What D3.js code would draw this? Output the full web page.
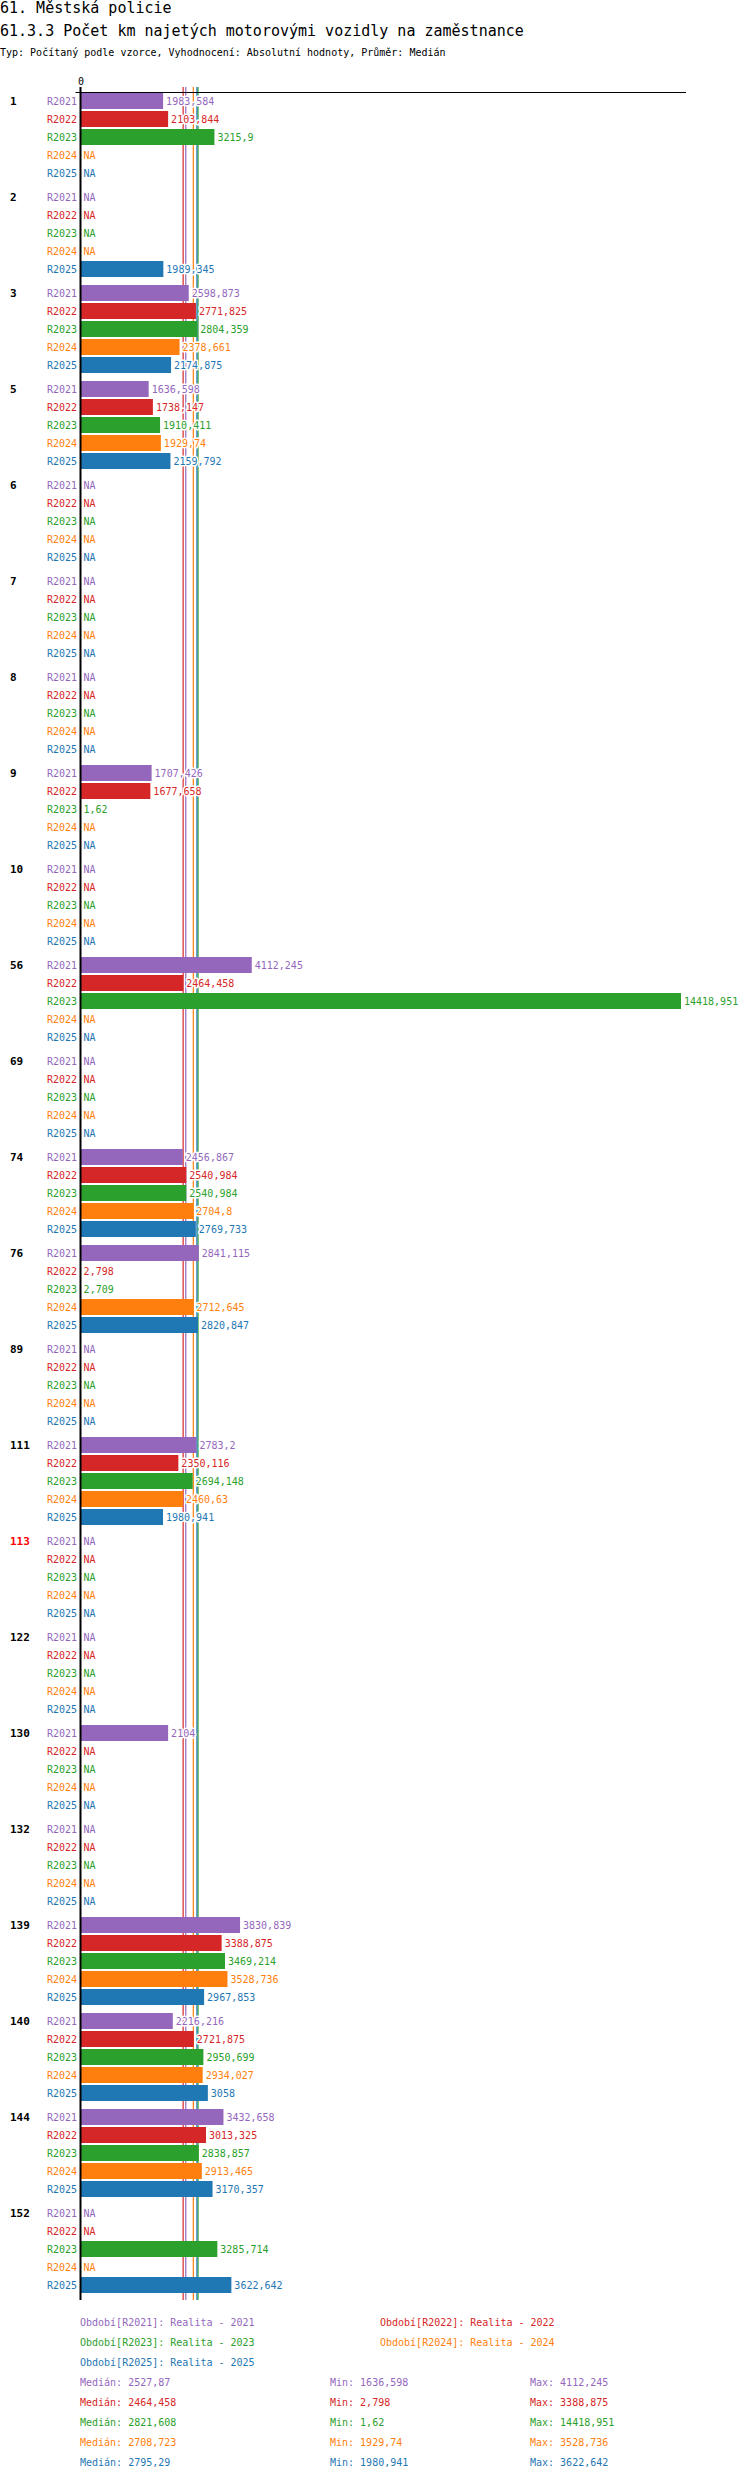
<!DOCTYPE html>
<html>
<head>
<meta charset="utf-8">
<script src="https://cdn.jsdelivr.net/npm/d3@7"></script>
<style>
  body { margin: 0; background: #fff; }
  text { font-family: "DejaVu Sans Mono", monospace; }
</style>
</head>
<body>
<div id="chart"></div>
<script>
// categories (organisations) and periods
const groups = ["1", "2", "3", "5", "6", "7", "8", "9", "10", "56", "69", "74", "76", "89",
                "111", "113", "122", "130", "132", "139", "140", "144", "152"];
const highlighted = ["113"];
const series = ["R2021", "R2022", "R2023", "R2024", "R2025"];
const seriesNames = ["Realita - 2021", "Realita - 2022", "Realita - 2023", "Realita - 2024", "Realita - 2025"];
const colors = ["#9467bd", "#d62728", "#2ca02c", "#ff7f0e", "#1f77b4"];

// values per period, in the order of groups (null = NA)
const r2021 = [1983.584, null, 2598.873, 1636.598, null, null, null, 1707.426, null, 4112.245, null,
               2456.867, 2841.115, null, 2783.2, null, null, 2104, null, 3830.839, 2216.216, 3432.658, null];
const r2022 = [2103.844, null, 2771.825, 1738.147, null, null, null, 1677.658, null, 2464.458, null,
               2540.984, 2.798, null, 2350.116, null, null, null, null, 3388.875, 2721.875, 3013.325, null];
const r2023 = [3215.9, null, 2804.359, 1910.411, null, null, null, 1.62, null, 14418.951, null,
               2540.984, 2.709, null, 2694.148, null, null, null, null, 3469.214, 2950.699, 2838.857, 3285.714];
const r2024 = [null, null, 2378.661, 1929.74, null, null, null, null, null, null, null,
               2704.8, 2712.645, null, 2460.63, null, null, null, null, 3528.736, 2934.027, 2913.465, null];
const r2025 = [null, 1989.345, 2174.875, 2159.792, null, null, null, null, null, null, null,
               2769.733, 2820.847, null, 1980.941, null, null, null, null, 2967.853, 3058, 3170.357, 3622.642];
const values = [r2021, r2022, r2023, r2024, r2025];

const W = 750, H = 2480;
const plotTop = 92, groupStep = 96;

const locale = d3.formatLocale({ decimal: ",", thousands: "", grouping: [3], currency: ["", ""] });
const fmt = v => locale.format("~f")(Math.round(v * 1000 + 1e-7) / 1000);

const svg = d3.select("#chart").append("svg")
    .attr("width", W)
    .attr("height", H);

// titles
svg.append("text").attr("x", 0).attr("y", 8).attr("dy", "0.35em")
    .style("font-size", "15px").text("61. Městská policie");
svg.append("text").attr("x", 0).attr("y", 31).attr("dy", "0.35em")
    .style("font-size", "15px").text("61.3.3 Počet km najetých motorovými vozidly na zaměstnance");
svg.append("text").attr("x", 0).attr("y", 52).attr("dy", "0.35em")
    .style("font-size", "10px").text("Typ: Počítaný podle vzorce, Vyhodnocení: Absolutní hodnoty, Průměr: Medián");

// scales
const maxVal = d3.max(values.flat());
const x = d3.scaleLinear().domain([0, maxVal]).range([80.5, 681]);
const y0 = d3.scaleBand().domain(groups).range([plotTop, plotTop + groups.length * groupStep]);
const y1 = d3.scaleBand().domain(series).range([0, 90]).paddingInner(1 / 9).paddingOuter(1 / 18);
const bottom = plotTop + groups.length * groupStep;

// medians, min, max per period
const stats = values.map(arr => {
    const v = arr.filter(d => d !== null);
    return { median: d3.median(v), min: d3.min(v), max: d3.max(v) };
});

// median lines (behind bars)
svg.append("g").selectAll("line")
    .data(stats)
    .join("line")
    .attr("x1", d => x(d.median))
    .attr("x2", d => x(d.median))
    .attr("y1", 87)
    .attr("y2", bottom)
    .style("stroke", (d, i) => colors[i])
    .style("stroke-width", 1.2);

// axis
const axis = svg.append("g")
    .attr("transform", `translate(0,${plotTop})`)
    .call(d3.axisTop(x).tickValues([0]).tickSizeOuter(0).tickSize(5));
axis.select(".domain")
    .attr("d", `M${x(0) - 5},0.5H${x(maxVal) + 5}`)
    .style("stroke", "#000");
axis.selectAll(".tick line").remove();
axis.selectAll(".tick text")
    .attr("y", -11)
    .attr("dy", "0.35em")
    .style("font-family", "DejaVu Sans Mono, monospace")
    .style("font-size", "10px")
    .style("fill", "#000");

// groups
const g = svg.append("g").selectAll("g")
    .data(groups)
    .join("g")
    .attr("transform", d => `translate(0,${y0(d)})`);

g.append("text")
    .attr("x", 10)
    .attr("y", y1("R2021") + y1.bandwidth() / 2)
    .attr("dy", "0.35em")
    .style("font-size", "11px")
    .style("font-weight", "bold")
    .style("fill", d => highlighted.includes(d) ? "#ff0000" : "#000")
    .text(d => d);

const rows = g.selectAll("g.row")
    .data((d, gi) => series.map((s, si) => ({ s, si, v: values[si][gi] })))
    .join("g")
    .attr("class", "row")
    .attr("transform", d => `translate(0,${y1(d.s)})`);

rows.append("text")
    .attr("x", 77)
    .attr("y", y1.bandwidth() / 2)
    .attr("dy", "0.35em")
    .attr("text-anchor", "end")
    .style("font-size", "10px")
    .style("fill", d => colors[d.si])
    .text(d => d.s);

rows.filter(d => d.v !== null).append("rect")
    .attr("x", x(0))
    .attr("y", 0)
    .attr("width", d => x(d.v) - x(0))
    .attr("height", y1.bandwidth())
    .style("fill", d => colors[d.si]);

// value labels with a white halo over the median lines
rows.append("text")
    .attr("x", d => (d.v === null ? x(0) : x(d.v)) + 3)
    .attr("y", y1.bandwidth() / 2)
    .attr("dy", "0.35em")
    .style("font-size", "10px")
    .style("fill", d => colors[d.si])
    .style("stroke", "#fff")
    .style("stroke-width", 3)
    .style("stroke-linejoin", "round")
    .style("paint-order", "stroke")
    .text(d => d.v === null ? "NA" : fmt(d.v));

// zero line
svg.append("line")
    .attr("x1", x(0)).attr("x2", x(0))
    .attr("y1", 87).attr("y2", bottom)
    .style("stroke", "#000")
    .style("stroke-width", 2);

// legend
svg.append("g").selectAll("text")
    .data(series)
    .join("text")
    .attr("x", (d, i) => i % 2 === 0 ? 80 : 380)
    .attr("y", (d, i) => bottom + 22 + Math.floor(i / 2) * 20)
    .attr("dy", "0.35em")
    .style("font-size", "10px")
    .style("fill", (d, i) => colors[i])
    .text((d, i) => `Období[${d}]: ${seriesNames[i]}`);

// statistics
const statTop = bottom + 22 + 3 * 20;
const statCols = [
    { x: 80, label: "Medián", key: "median" },
    { x: 330, label: "Min", key: "min" },
    { x: 530, label: "Max", key: "max" }
];
statCols.forEach(c => {
    svg.append("g").selectAll("text")
        .data(stats)
        .join("text")
        .attr("x", c.x)
        .attr("y", (d, i) => statTop + i * 20)
        .attr("dy", "0.35em")
        .style("font-size", "10px")
        .style("fill", (d, i) => colors[i])
        .text(d => `${c.label}: ${fmt(d[c.key])}`);
});
</script>
</body>
</html>
